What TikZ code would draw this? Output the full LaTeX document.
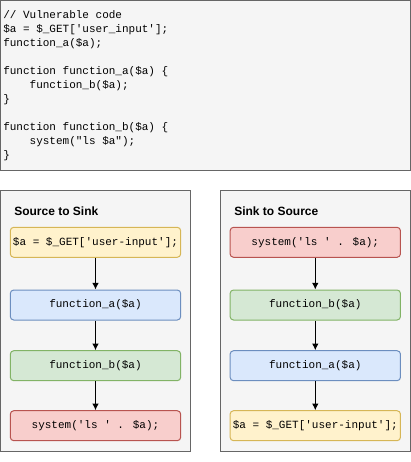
\documentclass[tikz,border=0pt]{standalone}
\usepackage{fontspec}
\usepackage{tikz}
\usetikzlibrary{calc}
\usetikzlibrary{arrows}
\usetikzlibrary{arrows.meta}
\usetikzlibrary{shapes}
\usetikzlibrary{positioning}
\newfontfamily\codefont{Liberation Mono}
\newfontfamily\titlefont{Liberation Sans}
\definecolor{panelfill}{HTML}{F5F5F5}
\definecolor{panelline}{HTML}{666666}
\definecolor{yfill}{HTML}{FFF2CC}
\definecolor{yline}{HTML}{D6B656}
\definecolor{bfill}{HTML}{DAE8FC}
\definecolor{bline}{HTML}{6C8EBF}
\definecolor{gfill}{HTML}{D5E8D4}
\definecolor{gline}{HTML}{82B366}
\definecolor{rfill}{HTML}{F8CECC}
\definecolor{rline}{HTML}{B85450}
\tikzset{>=latex}
\tikzstyle{panel} = [fill=panelfill, draw=panelline, line width=0.75pt]
\tikzstyle{codebox} = [rectangle, rounded corners=2.6pt, line width=0.75pt, minimum width=127.8pt, minimum height=22.5pt, inner sep=0pt, font=\codefont\fontsize{8.25}{10}\selectfont]
\tikzstyle{ybox} = [codebox, fill=yfill, draw=yline]
\tikzstyle{bbox} = [codebox, fill=bfill, draw=bline]
\tikzstyle{gbox} = [codebox, fill=gfill, draw=gline]
\tikzstyle{rbox} = [codebox, fill=rfill, draw=rline]
\tikzstyle{flow} = [-{Latex[length=5pt, width=5pt]}, draw=black, line width=0.75pt]

\begin{document}
\begin{tikzpicture}[x=0.75pt, y=-0.75pt]
\useasboundingbox (0,0) rectangle (411,462);
% code listing
\draw [panel] (0.5,0.5) rectangle (410.5,170);
\node [anchor=north west, inner sep=0pt, align=left, font=\codefont\fontsize{8.25}{10.5}\selectfont] (code) at (3,10.5) {%
// Vulnerable code\\
\$a = \$\_GET['user\_input'];\\
function\_a(\$a);\\[10.5pt]
function function\_a(\$a) \{\\
\ \ \ \ function\_b(\$a);\\
\}\\[10.5pt]
function function\_b(\$a) \{\\
\ \ \ \ system("ls \$a");\\
\}};
% left panel
\draw [panel] (0.5,190.5) rectangle (190.5,451.5);
\node [anchor=west, inner sep=0pt, font=\titlefont\bfseries\fontsize{9}{11}\selectfont] (L) at (14,211) {Source to Sink};
\node [ybox] (L1) at (95.5,242.3) {\$a = \$\_GET['user-input'];};
\node [bbox] (L2) at (95.5,305) {function\_a(\$a)};
\node [gbox] (L3) at (95.5,365.7) {function\_b(\$a)};
\node [rbox] (L4) at (95.5,425.7) {system('ls ' . \$a);};
\draw [flow] (L1) to (L2);
\draw [flow] (L2) to (L3);
\draw [flow] (L3) to (L4);
% right panel
\draw [panel] (220.5,190.5) rectangle (410.5,451.5);
\node [anchor=west, inner sep=0pt, font=\titlefont\bfseries\fontsize{9}{11}\selectfont] (R) at (234,211) {Sink to Source};
\node [rbox] (R1) at (315.3,242.3) {system('ls ' . \$a);};
\node [gbox] (R2) at (315.3,305) {function\_b(\$a)};
\node [bbox] (R3) at (315.3,365.7) {function\_a(\$a)};
\node [ybox] (R4) at (315.3,425.7) {\$a = \$\_GET['user-input'];};
\draw [flow] (R1) to (R2);
\draw [flow] (R2) to (R3);
\draw [flow] (R3) to (R4);
\end{tikzpicture}
\end{document}
